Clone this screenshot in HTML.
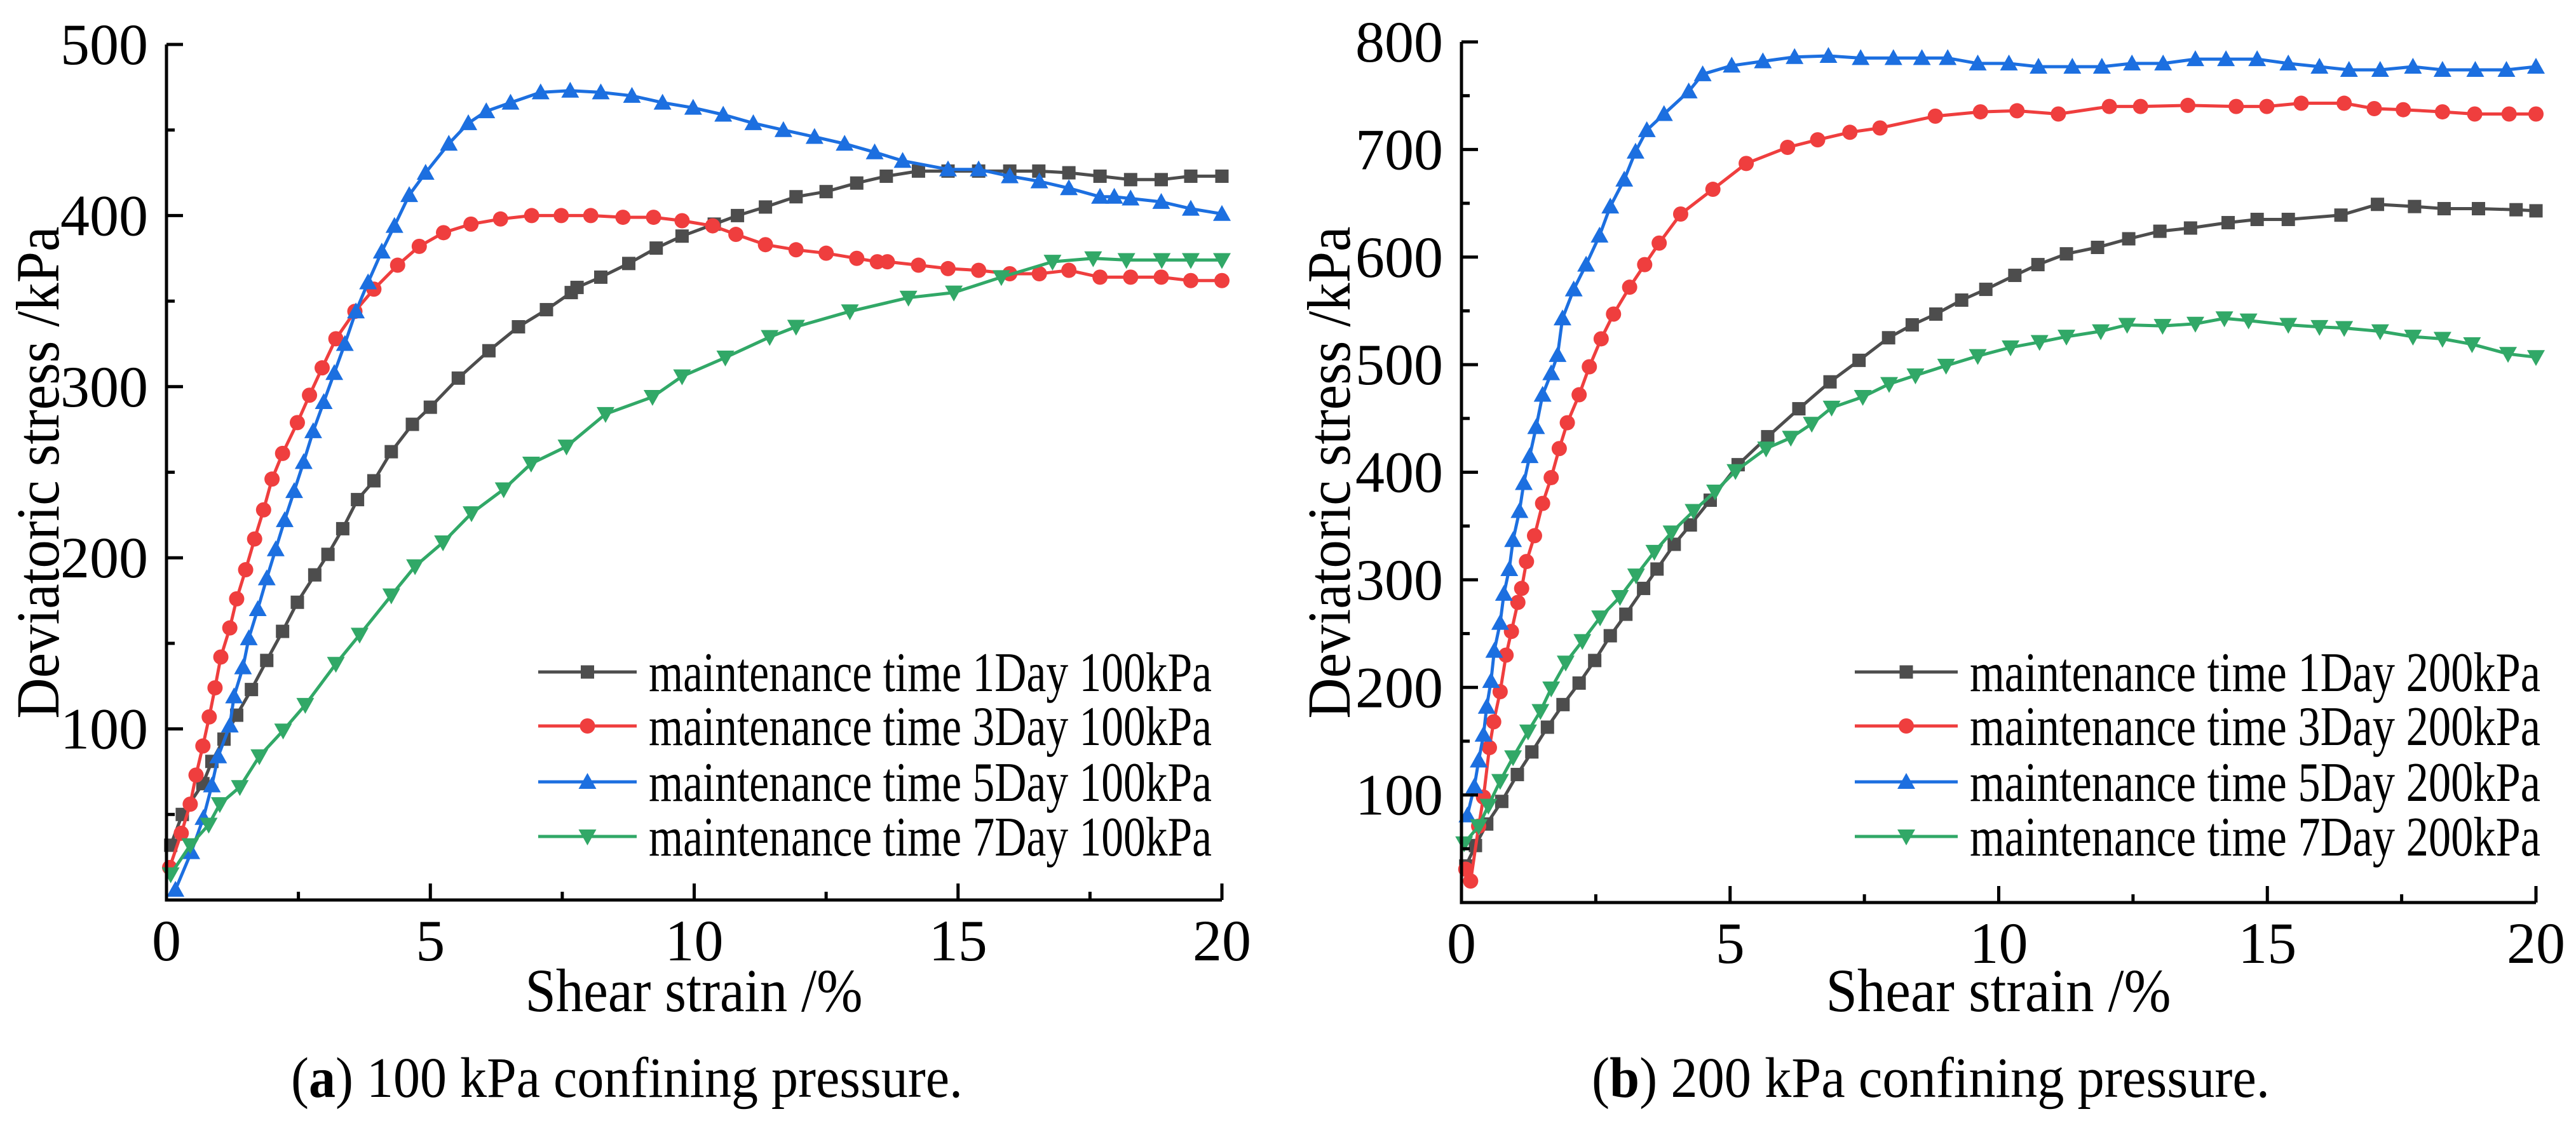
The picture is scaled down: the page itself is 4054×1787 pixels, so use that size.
<!DOCTYPE html>
<html><head><meta charset="utf-8"><style>
html,body{margin:0;padding:0;background:#fff;}
svg{display:block;}
svg text{font-family:"Liberation Serif","Times New Roman",serif;}
</style></head><body>
<svg id="fig" width="4054" height="1787" viewBox="0 0 4054 1787" xmlns="http://www.w3.org/2000/svg" font-family="Liberation Serif, serif"></svg>
<script>
// ---- Chart A (100 kPa) data ----
const a1x=[0.08,0.30,0.69,0.86,1.09,1.33,1.61,1.90,2.20,2.48,2.81,3.06,3.34,3.62,3.93,4.26,4.66,5.00,5.53,6.11,6.67,7.20,7.67,7.78,8.23,8.76,9.28,9.77,10.38,10.82,11.35,11.93,12.50,13.08,13.64,14.25,14.81,15.39,15.98,16.53,17.10,17.69,18.27,18.85,19.41,20.0];
const a1y=[32,50,68,81,94,108,123,140,157,174,190,202,217,234,245,262,278,288,305,321,335,345,355,358,364,372,381,388,395,400,405,411,414,419,423,426,426,426,426,426,425,423,421,421,423,423];
const a3x=[0.06,0.28,0.45,0.56,0.69,0.81,0.92,1.03,1.20,1.33,1.50,1.67,1.84,2.00,2.20,2.48,2.71,2.95,3.21,3.57,3.93,4.38,4.79,5.25,5.77,6.33,6.92,7.48,8.04,8.65,9.23,9.77,10.35,10.79,11.35,11.93,12.50,13.08,13.47,13.66,14.25,14.81,15.39,15.98,16.54,17.10,17.69,18.27,18.85,19.41,20.0];
const a3y=[19,39,56,73,90,107,124,142,159,176,193,211,228,246,261,279,295,311,328,344,357,371,382,390,395,398,400,400,400,399,399,397,394,389,383,380,378,375,373,373,371,369,368,366,366,368,364,364,364,362,362];
const a5x=[0.17,0.47,0.70,0.86,0.98,1.20,1.28,1.45,1.56,1.73,1.90,2.07,2.24,2.42,2.60,2.78,2.98,3.18,3.38,3.59,3.82,4.08,4.32,4.60,4.91,5.35,5.72,6.06,6.52,7.09,7.65,8.23,8.82,9.40,9.98,10.55,11.12,11.69,12.28,12.85,13.42,13.95,14.81,15.39,15.98,16.54,17.10,17.69,17.96,18.27,18.85,19.41,20.0];
const a5y=[6,28,48,67,84,102,119,136,153,170,188,205,222,239,256,274,291,308,325,344,361,379,394,412,425,442,454,461,466,472,473,472,470,466,463,459,454,450,446,442,437,432,427,427,423,420,416,411,411,410,408,404,401];
const a7x=[0.08,0.45,0.80,1.01,1.39,1.76,2.21,2.63,3.21,3.66,4.26,4.71,5.24,5.78,6.39,6.91,7.58,8.32,9.21,9.77,10.59,11.43,11.93,12.95,14.06,14.92,15.82,16.79,17.56,18.19,18.86,19.41,20.0];
const a7y=[15,32,44,56,66,84,99,114,138,155,178,195,209,226,240,255,265,284,294,306,317,329,335,344,352,355,364,373,375,374,374,374,374];
// ---- Chart B (200 kPa) data ----
const b1x=[0.08,0.26,0.47,0.75,1.04,1.31,1.60,1.89,2.19,2.48,2.77,3.06,3.39,3.64,3.96,4.26,4.63,5.15,5.70,6.28,6.86,7.40,7.95,8.39,8.83,9.31,9.76,10.30,10.73,11.26,11.84,12.42,13.00,13.57,14.27,14.81,15.39,16.37,17.05,17.74,18.29,18.93,19.63,20.0];
const b1y=[34,53,73,94,119,140,163,184,204,225,248,268,292,310,333,351,374,407,433,459,484,504,525,537,547,560,570,583,593,603,609,617,624,627,632,635,635,639,649,647,645,645,644,643];
const b3x=[0.08,0.17,0.32,0.41,0.52,0.60,0.72,0.83,0.93,1.05,1.12,1.21,1.36,1.51,1.67,1.82,1.97,2.19,2.38,2.60,2.83,3.13,3.41,3.68,4.08,4.68,5.30,6.07,6.63,7.23,7.79,8.82,9.66,10.34,11.11,12.06,12.64,13.52,14.42,14.99,15.63,16.43,16.99,17.53,18.26,18.86,19.50,20.0];
const b3y=[31,20,71,98,144,168,196,230,252,279,292,317,341,371,395,422,446,472,498,524,547,572,593,613,640,663,687,702,709,716,720,731,735,736,733,740,740,741,740,740,743,743,738,737,735,733,733,733];
const b5x=[0.11,0.24,0.32,0.41,0.47,0.55,0.61,0.72,0.79,0.89,0.96,1.08,1.16,1.27,1.39,1.51,1.67,1.79,1.88,2.09,2.32,2.57,2.77,3.03,3.24,3.45,3.77,4.23,4.49,5.03,5.61,6.20,6.83,7.43,8.04,8.57,9.05,9.61,10.19,10.74,11.37,11.92,12.48,13.06,13.66,14.23,14.81,15.39,15.97,16.52,17.10,17.71,18.26,18.87,19.45,20.0];
const b5y=[81,108,132,156,182,206,234,260,287,310,337,364,390,415,442,472,492,509,543,570,593,620,647,672,698,718,733,754,770,778,782,786,787,785,785,785,785,780,780,777,777,777,780,780,784,784,784,780,777,774,774,777,774,774,774,777];
const b7x=[0.05,0.32,0.50,0.72,0.96,1.24,1.47,1.67,1.94,2.25,2.58,2.95,3.25,3.59,3.91,4.32,4.72,5.10,5.67,6.13,6.52,6.89,7.47,7.96,8.45,9.02,9.61,10.22,10.76,11.26,11.90,12.39,13.05,13.66,14.20,14.65,15.39,15.97,16.43,17.10,17.71,18.26,18.81,19.48,20.0];
const b7y=[55,71,90,113,135,159,178,199,223,243,265,284,304,326,344,364,382,401,422,432,445,460,470,482,490,499,508,516,521,526,531,537,536,538,543,541,537,535,534,531,526,524,519,510,507];
const xTicksA=[0,5,10,15,20];
const yTicksA=[100,200,300,400,500];
const xTicksB=[0,5,10,15,20];
const yTicksB=[100,200,300,400,500,600,700,800];
const legendA=["maintenance time 1Day 100kPa","maintenance time 3Day 100kPa","maintenance time 5Day 100kPa","maintenance time 7Day 100kPa"];
const legendB=["maintenance time 1Day 200kPa","maintenance time 3Day 200kPa","maintenance time 5Day 200kPa","maintenance time 7Day 200kPa"];

const NS="http://www.w3.org/2000/svg";
const svg=document.getElementById('fig');
const FF="Liberation Serif, Times New Roman, serif";
const colors=["#4d4d4d","#ef3e3e","#1c6fe0","#31a867"];
const shapes=["square","circle","up","down"];
function mk(tag,attrs,parent){const e=document.createElementNS(NS,tag);for(const k in attrs)e.setAttribute(k,attrs[k]);(parent||svg).appendChild(e);return e;}
function marker(shape,cx,cy,color,g){
  let e;
  if(shape==="square"){e=mk('rect',{x:cx-10.5,y:cy-10.5,width:21,height:21,fill:color},g);}
  else if(shape==="circle"){e=mk('circle',{cx:cx,cy:cy,r:12,fill:color},g);}
  else if(shape==="up"){e=mk('polygon',{points:`${cx},${cy-14} ${cx-14},${cy+11} ${cx+14},${cy+11}`,fill:color},g);}
  else {e=mk('polygon',{points:`${cx},${cy+14} ${cx-14},${cy-11} ${cx+14},${cy-11}`,fill:color},g);}
  
  
}
function drawChart(c){
  const sx=v=>c.x0+(v-0)/(20-0)*(c.x1-c.x0);
  const sy=v=>c.yb-(v/c.ymax)*(c.yb-c.yt);
  const g=mk('g',{});
  
  
  c.series.forEach((s,i)=>{
    const sg=mk('g',{},g);
    
    
    const pts=s.x.map((v,j)=>sx(v).toFixed(1)+','+sy(s.y[j]).toFixed(1)).join(' ');
    const pl=mk('polyline',{points:pts,fill:'none',stroke:colors[i],'stroke-width':5,'stroke-linejoin':'round'},sg);
    
    
    s.x.forEach((v,j)=>marker(shapes[i],sx(v),sy(s.y[j]),colors[i],sg));
  });
  const ax=mk('path',{d:`M${c.x0},${c.yt} V${c.yb} H${c.x1}`,fill:'none',stroke:'#000','stroke-width':5},g);
  
  
  for(let v=0;v<=20;v+=2.5){
    const major=(v%5===0);
    mk('line',{x1:sx(v),x2:sx(v),y1:c.yb,y2:c.yb-(major?26:13),stroke:'#000','stroke-width':5},g);
  }
  c.xt.forEach(v=>{
    const t=mk('text',{x:sx(v),y:c.yb+95,'font-size':92,'font-family':FF,'text-anchor':'middle'},g);
    t.textContent=v;
    
    
  });
  for(let v=50;v<=c.ymax;v+=50){
    const major=(v%100===0);
    mk('line',{x1:c.x0,x2:c.x0+(major?26:13),y1:sy(v),y2:sy(v),stroke:'#000','stroke-width':5},g);
  }
  c.yt2.forEach(v=>{
    const t=mk('text',{x:c.x0-29,y:sy(v)+31,'font-size':92,'font-family':FF,'text-anchor':'end'},g);
    t.textContent=v;
    
    
  });
  const xt=mk('text',{x:c.xtc,y:1592,'font-size':96,'font-family':FF,'text-anchor':'middle',textLength:c.xtw,lengthAdjust:'spacingAndGlyphs'},g);
  xt.textContent='Shear strain /%';
  
  
  const yt=mk('text',{x:0,y:0,'font-size':96,'font-family':FF,'text-anchor':'middle',textLength:775,lengthAdjust:'spacingAndGlyphs',transform:`translate(${c.ytx},744) rotate(-90)`},g);
  yt.textContent='Deviatoric stress /kPa';
  
  
  const lg=mk('g',{},g);
  
  
  const rows=[1058,1143,1231,1317];
  c.legend.forEach((txt,i)=>{
    const eg=mk('g',{},lg);
    
    
    mk('line',{x1:c.lx0,x2:c.lx1,y1:rows[i],y2:rows[i],stroke:colors[i],'stroke-width':5},eg);
    marker(shapes[i],(c.lx0+c.lx1)/2,rows[i],colors[i],eg);
    const t=mk('text',{x:c.ltx,y:rows[i]+30,'font-size':88,'font-family':FF,textLength:c.ltw,lengthAdjust:'spacingAndGlyphs'},eg);
    t.textContent=txt;
    
    
  });
  const cap=mk('text',{x:c.capx,y:1727,'font-size':90,'font-family':FF,textLength:c.capw,lengthAdjust:'spacingAndGlyphs'},g);
  
  
  const b=mk('tspan',{},cap);b.textContent='(';
  const b2=mk('tspan',{'font-weight':'bold'},cap);b2.textContent=c.letter;
  const b3=mk('tspan',{},cap);b3.textContent=') '+c.captxt;
}
drawChart({name:'chart-100kpa',x0:262,x1:1923,yb:1417,yt:70,ymax:500,xt:xTicksA,yt2:yTicksA,
  series:[{x:a1x,y:a1y},{x:a3x,y:a3y},{x:a5x,y:a5y},{x:a7x,y:a7y}],
  xtc:1092,xtw:531,ytx:92,legend:legendA,lx0:847,lx1:1002,ltx:1021,ltw:886,
  capx:458,capw:1057,letter:'a',captxt:'100 kPa confining pressure.'});
drawChart({name:'chart-200kpa',x0:2300,x1:3991,yb:1421,yt:66,ymax:800,xt:xTicksB,yt2:yTicksB,
  series:[{x:b1x,y:b1y},{x:b3x,y:b3y},{x:b5x,y:b5y},{x:b7x,y:b7y}],
  xtc:3145,xtw:543,ytx:2124,legend:legendB,lx0:2919,lx1:3081,ltx:3100,ltw:898,
  capx:2505,capw:1067,letter:'b',captxt:'200 kPa confining pressure.'});
</script>
</body></html>
